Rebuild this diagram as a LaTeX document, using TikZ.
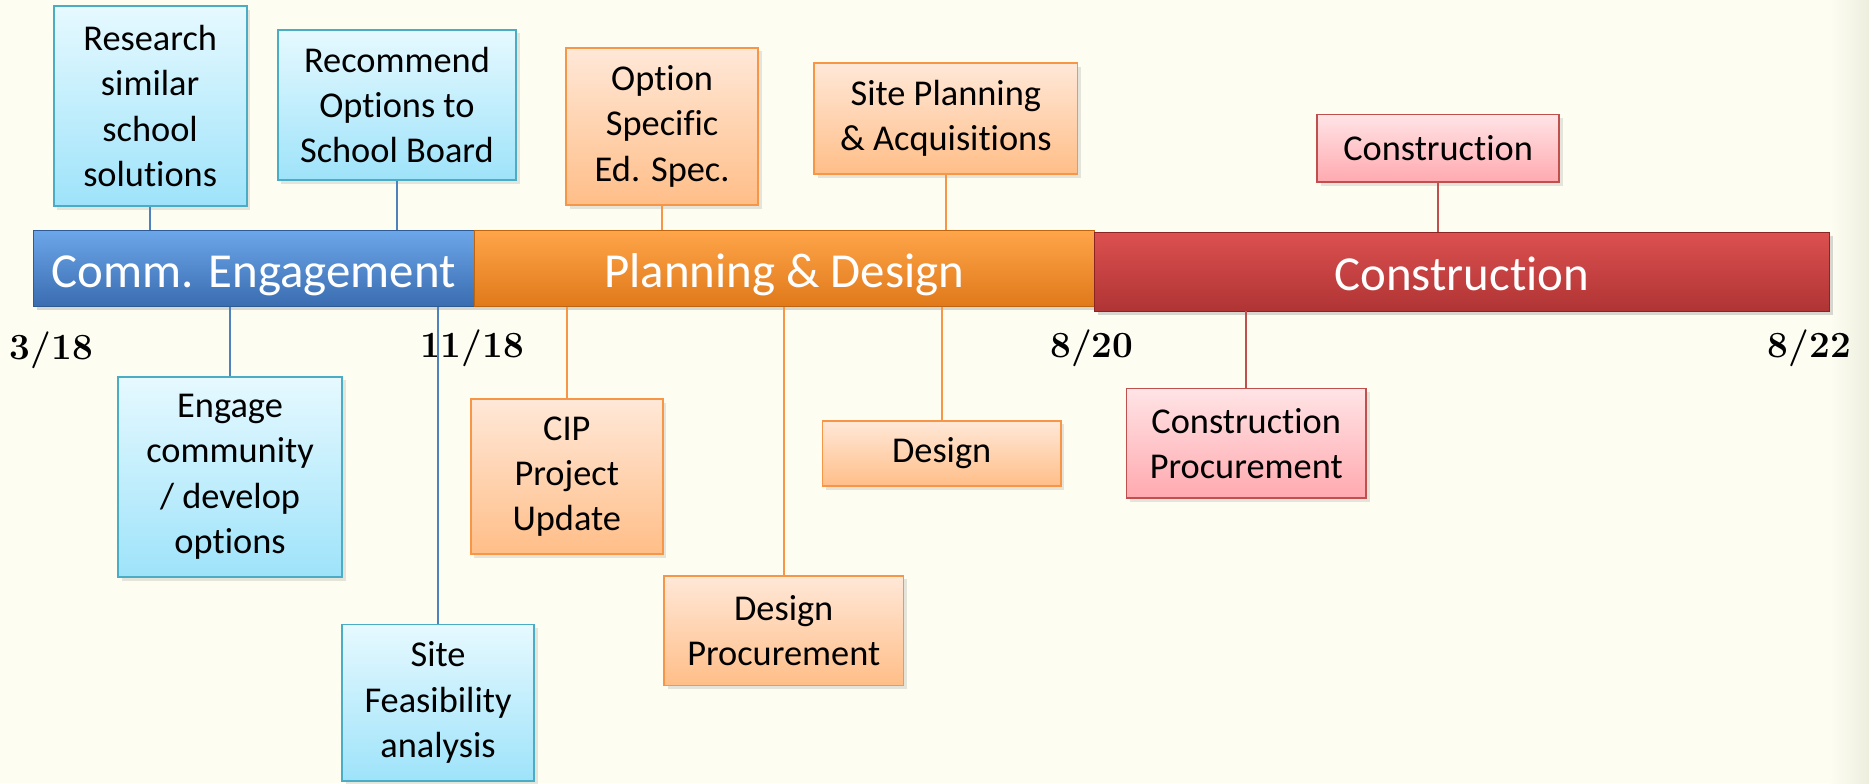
\documentclass[tikz,border=0pt]{standalone}
\usepackage{fontspec}
\newfontfamily\boxfont{Carlito}[Ligatures=NoCommon]
\usetikzlibrary{shadows}
\definecolor{cream}{HTML}{FDFDF2}
\definecolor{creamdark}{HTML}{EEEEDF}
\definecolor{blueline}{HTML}{4F81BD}
\definecolor{orangeline}{HTML}{F79646}
\definecolor{redline}{HTML}{C0504D}
\definecolor{cyanline}{HTML}{4BACC6}
\definecolor{cyantop}{HTML}{E6F9FF}
\definecolor{cyanbot}{HTML}{9EE3FA}
\definecolor{peachtop}{HTML}{FFE8D8}
\definecolor{peachbot}{HTML}{FFBE88}
\definecolor{pinktop}{HTML}{FFE4E6}
\definecolor{pinkbot}{HTML}{FFA9AF}
\definecolor{commtop}{HTML}{6CA7EA}
\definecolor{commbot}{HTML}{3A6CB0}
\definecolor{commedge}{HTML}{2E5A96}
\definecolor{plantop}{HTML}{FFA54A}
\definecolor{planbot}{HTML}{E0791A}
\definecolor{planedge}{HTML}{C0650F}
\definecolor{constop}{HTML}{DC5050}
\definecolor{consbot}{HTML}{B03434}
\definecolor{consedge}{HTML}{8C2424}
\begin{document}
\begin{tikzpicture}[x=1pt,y=-1pt,
    phasebar/.style={draw,minimum height=64,inner sep=0pt,text=white,
        text height=32pt,text depth=0pt,
        font=\boxfont\fontsize{41}{45}\selectfont,
        drop shadow={shadow xshift=3pt,shadow yshift=-3pt,opacity=.3}},
    taskbox/.style={draw,line width=1.5pt,inner sep=0pt,align=center,
        font=\boxfont\fontsize{30.5}{38}\selectfont,
        drop shadow={shadow xshift=3pt,shadow yshift=-3pt,opacity=.2}},
    bluebox/.style={taskbox,draw=cyanline,top color=cyantop,bottom color=cyanbot},
    orangebox/.style={taskbox,draw=orangeline,top color=peachtop,bottom color=peachbot},
    redbox/.style={taskbox,draw=redline,top color=pinktop,bottom color=pinkbot},
    datelabel/.style={font=\fontsize{31}{34}\selectfont\bfseries}]
\useasboundingbox (0,0) rectangle (1568,657);
\fill[cream] (0,0) rectangle (1568,657);
\shade[left color=cream,right color=creamdark] (1535,0) rectangle (1568,657);
\node[phasebar,minimum width=370,draw=commedge,top color=commtop,bottom color=commbot]
    (comm) at (213,225) {Comm. Engagement};
\node[phasebar,minimum width=520,draw=planedge,top color=plantop,bottom color=planbot]
    (plan) at (658,225) {Planning \& Design};
\node[phasebar,minimum width=617,minimum height=66,draw=consedge,top color=constop,bottom color=consbot]
    (cons) at (1226.5,228) {Construction};
\node[datelabel] (d1) at (43,294) {3/18};
\node[datelabel] (d2) at (396,292) {11/18};
\node[datelabel] (d3) at (916,292) {8/20};
\node[datelabel] (d4) at (1518,292) {8/22};
\node[bluebox,minimum width=162,minimum height=168] (research) at (126,89)
    {Research\\similar\\school\\solutions};
\node[bluebox,minimum width=200,minimum height=126] (recommend) at (333,88)
    {Recommend\\Options to\\School Board};
\node[bluebox,minimum width=188,minimum height=168] (engage) at (193,400)
    {Engage\\community\\/ develop\\options};
\node[bluebox,minimum width=161,minimum height=131] (feasible) at (367.5,589.5)
    {Site\\Feasibility\\analysis};
\node[orangebox,minimum width=161,minimum height=132] (edspec) at (555.5,106)
    {Option\\Specific\\Ed. Spec.};
\node[orangebox,minimum width=221,minimum height=93] (siteplan) at (793.5,99.5)
    {Site Planning\\\& Acquisitions};
\node[orangebox,minimum width=161,minimum height=130] (cip) at (475.5,400)
    {CIP\\Project\\Update};
\node[orangebox,minimum width=201,minimum height=92] (designproc) at (657.5,529)
    {Design\\Procurement};
\node[orangebox,minimum width=200,minimum height=55] (design) at (790,380.5) {Design};
\node[redbox,minimum width=203,minimum height=57] (construct) at (1206.5,124.5) {Construction};
\node[redbox,minimum width=201,minimum height=92] (consproc) at (1045.5,372)
    {Construction\\Procurement};
\draw[blueline,line width=1.5pt] (research.south) -- (research.south |- comm.north)
    (recommend.south) -- (recommend.south |- comm.north)
    (engage.north |- comm.south) -- (engage.north)
    (feasible.north |- comm.south) -- (feasible.north);
\draw[orangeline,line width=1.5pt] (edspec.south) -- (edspec.south |- plan.north)
    (siteplan.south) -- (siteplan.south |- plan.north)
    (cip.north |- plan.south) -- (cip.north)
    (designproc.north |- plan.south) -- (designproc.north)
    (design.north |- plan.south) -- (design.north);
\draw[redline,line width=1.5pt] (construct.south) -- (construct.south |- cons.north)
    (consproc.north |- cons.south) -- (consproc.north);
\end{tikzpicture}
\end{document}
